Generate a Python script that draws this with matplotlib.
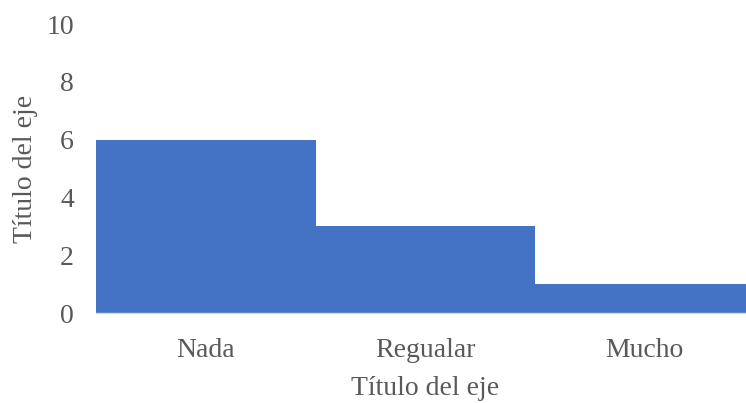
import matplotlib
matplotlib.use("Agg")
import matplotlib.pyplot as plt

categories = ["Nada", "Regualar", "Mucho"]
values = [6, 3, 1]
yticks = [0, 2, 4, 6, 8, 10]

plt.rcParams['font.family'] = ['Liberation Serif', 'DejaVu Serif']

fig = plt.figure(figsize=(7.46, 4.03), dpi=100)
ax = fig.add_axes([0.129, 0.223, 0.882, 0.717])
x = range(len(categories))
ax.bar(x, values, width=1.0, color="#4472C4", edgecolor="none")
ax.set_xlim(-0.5, len(categories) - 0.5)
ax.set_ylim(0, 10)
ax.set_yticks(yticks)
ax.set_xticks(list(x))
ax.set_xticklabels(categories)
for s in ["top", "right", "left"]:
    ax.spines[s].set_visible(False)
ax.spines["bottom"].set_color("#D9D9D9")
ax.spines["bottom"].set_linewidth(1.0)
ax.tick_params(axis="both", length=0, labelsize=20, colors="#595959", labelcolor="#595959")
ax.tick_params(axis="x", pad=18)
ax.tick_params(axis="y", pad=16)
ax.set_xlabel("Título del eje", fontsize=20, color="#595959", labelpad=9)
ax.set_ylabel("Título del eje", fontsize=20, color="#595959", labelpad=6)
fig.savefig("out.png", dpi=100)
